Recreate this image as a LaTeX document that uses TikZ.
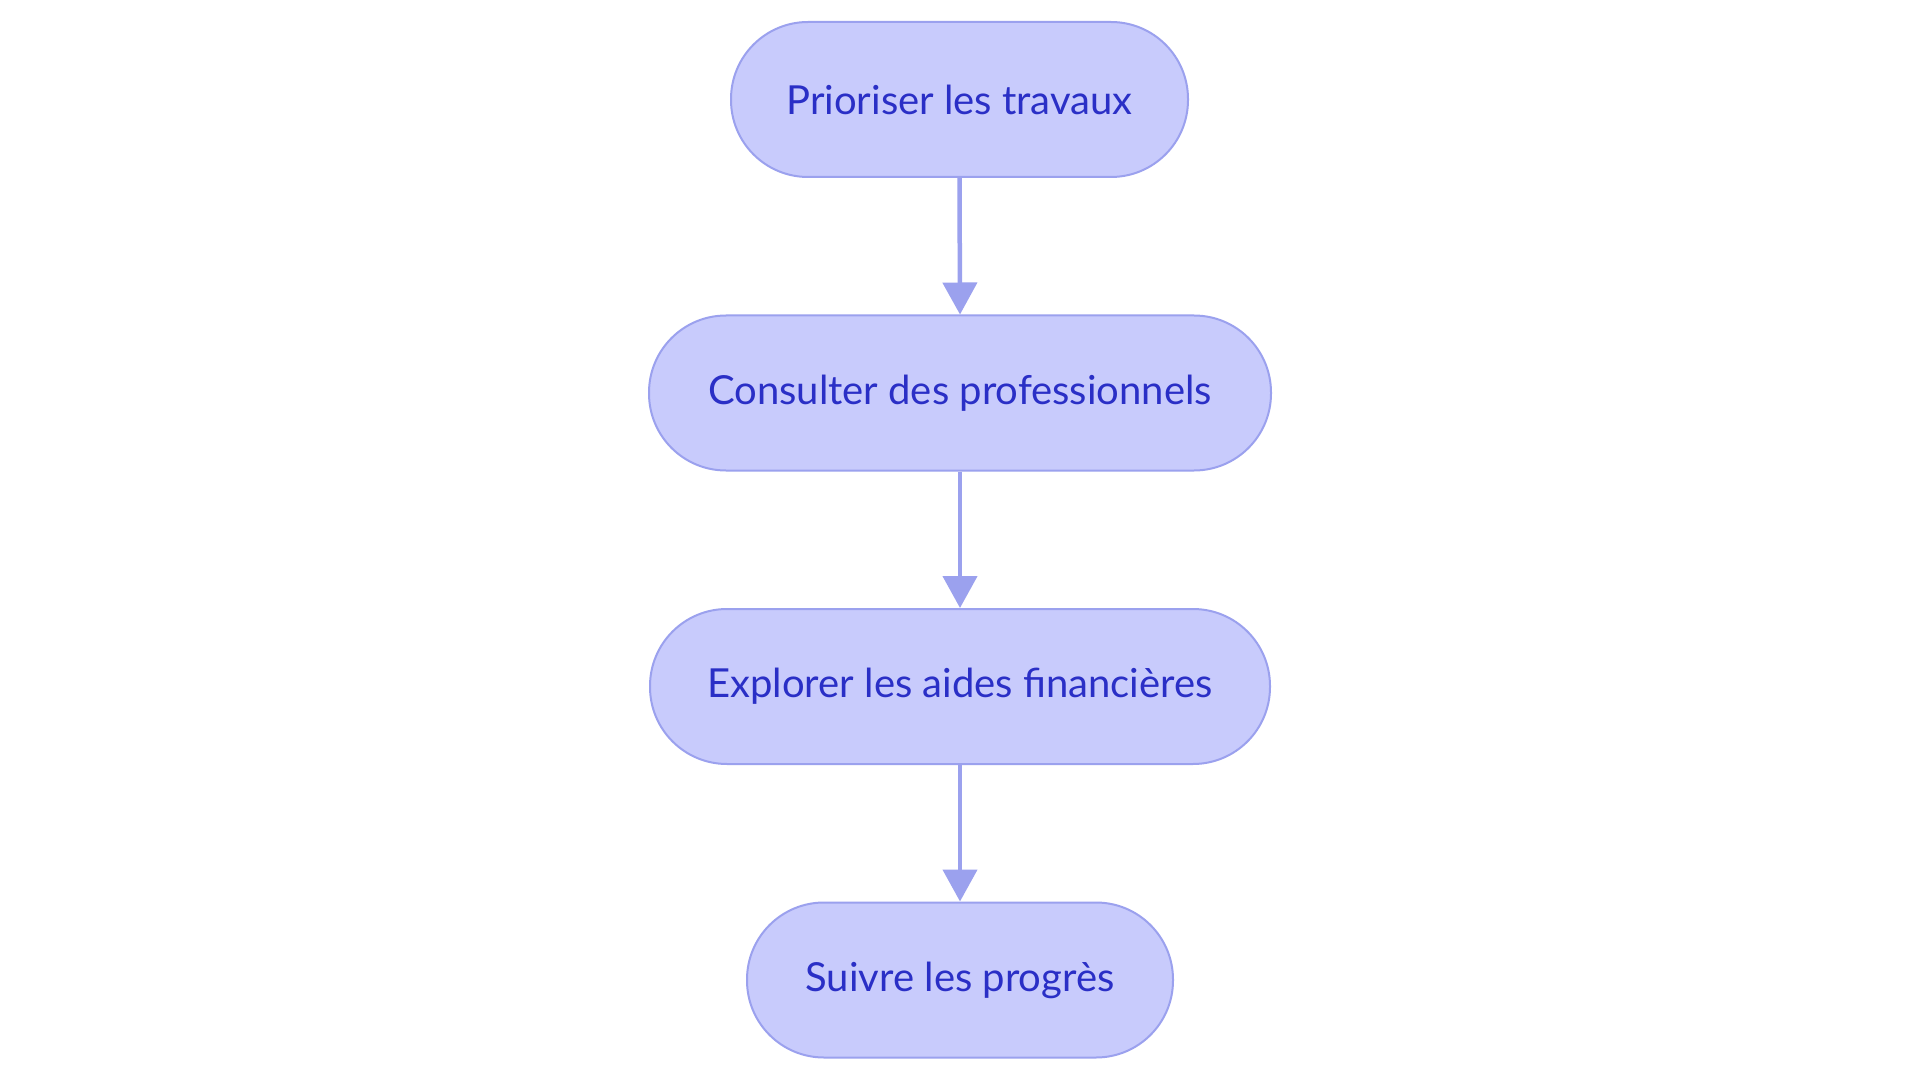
\documentclass[tikz,border=0pt]{standalone}
\usepackage{fontspec}
\setmainfont{Lato}
\usetikzlibrary{arrows.meta}
\definecolor{boxfill}{HTML}{C8CBFC}
\definecolor{boxline}{HTML}{9BA1EE}
\definecolor{boxtext}{HTML}{2A2FC6}
\tikzset{
  stepbox/.style={draw=boxline, line width=2pt, fill=boxfill, text=boxtext,
    rounded corners=77pt, minimum height=155pt, inner sep=0pt,
    font=\fontsize{40}{44}\selectfont},
  flowarrow/.style={draw=boxline, line width=4.5pt,
    -{Triangle[width=34pt,length=32pt]}}
}
\begin{document}
\begin{tikzpicture}[x=1pt,y=-1pt]
\useasboundingbox[fill=white] (0,0) rectangle (1920,1083);
\node[stepbox, minimum width=457pt] (a) at (959.5,99.5) {Prioriser les travaux};
\node[stepbox, minimum width=622pt] (b) at (960,393) {Consulter des professionnels};
\node[stepbox, minimum width=620pt] (c) at (960,686.5) {Explorer les aides financières};
\node[stepbox, minimum width=426pt] (d) at (960,980) {Suivre les progrès};
\draw[flowarrow] (a.south) -- (b.north);
\draw[flowarrow] (b.south) -- (c.north);
\draw[flowarrow] (c.south) -- (d.north);
\end{tikzpicture}
\end{document}
